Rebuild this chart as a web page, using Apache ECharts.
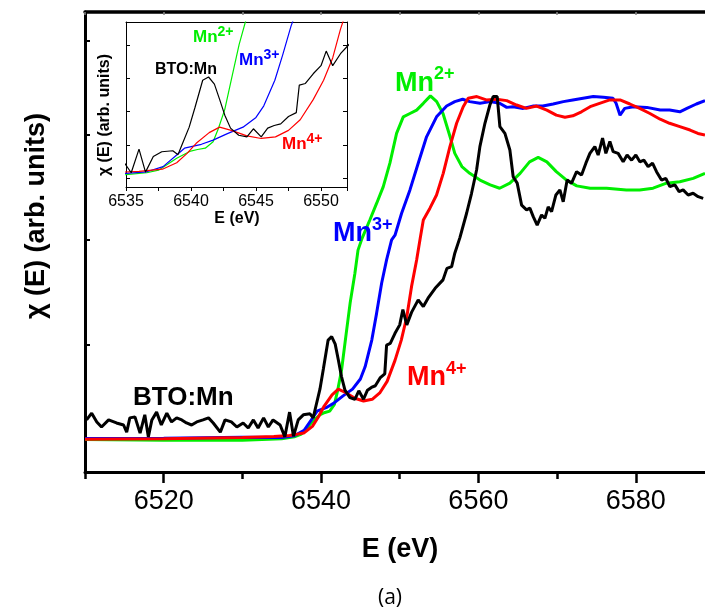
<!DOCTYPE html>
<html><head><meta charset="utf-8">
<script src="https://cdn.jsdelivr.net/npm/echarts@6/dist/echarts.min.js"></script>
<style>html,body{margin:0;padding:0;background:#fff}#c{width:705px;height:616px}</style>
</head><body><div id="c"></div>
<script>
// ---- data: [energy (eV), normalised chi(E)] ----
const mn2 = [[6510,-0.004],[6520,-0.006],[6530,-0.006],[6535,-0.002],[6536.6,0.004],[6537.5,0.012],[6538.2,0.03],[6538.9,0.049],[6539.9,0.07],[6540.5,0.076],[6541.1,0.08],[6541.7,0.1],[6542.1,0.14],[6542.6,0.2],[6543.2,0.31],[6543.7,0.4],[6544.3,0.487],[6544.7,0.556],[6545.2,0.59],[6546.2,0.645],[6547.06,0.694],[6547.9,0.743],[6548.75,0.813],[6549.6,0.901],[6550.45,0.95],[6551.3,0.96],[6552.15,0.97],[6553,0.99],[6553.9,1.012],[6554.7,0.995],[6555.5,0.96],[6556.4,0.891],[6557,0.842],[6557.9,0.803],[6558.9,0.783],[6560.2,0.763],[6561.5,0.749],[6562.7,0.739],[6564,0.754],[6565.3,0.783],[6566.5,0.817],[6567.6,0.83],[6568.7,0.817],[6569.9,0.788],[6571.2,0.763],[6572.5,0.746],[6574.2,0.739],[6576.3,0.739],[6578.8,0.734],[6580.5,0.734],[6582.2,0.739],[6583.9,0.754],[6585.6,0.758],[6587.3,0.768],[6588.8,0.783]];
const mn3 = [[6510,-0.001],[6520,0.0],[6530,0.003],[6535,0.002],[6536.6,0.007],[6537.85,0.023],[6538.9,0.059],[6539.5,0.08],[6540.8,0.092],[6541.7,0.105],[6542.8,0.125],[6544,0.145],[6545,0.175],[6545.6,0.211],[6546.45,0.29],[6547.06,0.369],[6547.7,0.458],[6548.33,0.527],[6548.97,0.586],[6549.4,0.6],[6550.24,0.665],[6551.3,0.734],[6552.35,0.813],[6553.41,0.891],[6554.68,0.95],[6555.96,0.982],[6557,0.995],[6558,1.002],[6558.9,0.995],[6560.2,0.99],[6561.5,0.995],[6562.7,0.99],[6563.6,0.978],[6564.4,0.98],[6565.7,0.975],[6567,0.982],[6568.2,0.982],[6569.5,0.988],[6570.8,0.995],[6572,1.0],[6573.3,1.005],[6574.6,1.01],[6575.9,1.008],[6577.1,1.005],[6577.5,0.99],[6578,0.955],[6578.6,0.975],[6579.7,0.98],[6581.4,0.978],[6583.1,0.97],[6584.3,0.97],[6585.6,0.965],[6586.5,0.975],[6587.7,0.988],[6588.8,0.998]];
const mn4 = [[6510,-0.003],[6520,-0.002],[6530,0.002],[6534,0.005],[6536,0.008],[6537,0.012],[6537.8,0.015],[6538.9,0.035],[6539.7,0.064],[6540.4,0.095],[6541.4,0.128],[6542.2,0.145],[6543.1,0.135],[6544.3,0.118],[6545.4,0.11],[6546.5,0.115],[6547.5,0.135],[6548.4,0.168],[6549.4,0.23],[6550.2,0.29],[6550.9,0.359],[6551.5,0.448],[6552.15,0.527],[6552.6,0.59],[6553,0.645],[6553.84,0.68],[6554.68,0.719],[6555.53,0.783],[6556.38,0.862],[6557.23,0.931],[6558.07,0.98],[6558.7,1.005],[6559.8,1.01],[6561,1.0],[6562.3,1.002],[6563.6,0.998],[6564.85,0.985],[6566.1,0.975],[6567.4,0.982],[6568.7,0.97],[6569.9,0.955],[6571,0.949],[6572,0.953],[6573.1,0.965],[6574.2,0.98],[6575.4,0.99],[6576.7,1.0],[6578,1.0],[6579.25,0.988],[6580.5,0.975],[6581.8,0.96],[6583.1,0.943],[6584.3,0.931],[6585.6,0.921],[6586.9,0.911],[6587.9,0.901],[6588.8,0.896]];
const bto = [[6510.2,0.054],[6510.85,0.074],[6511.5,0.048],[6512.1,0.033],[6513.0,0.054],[6514.0,0.045],[6514.9,0.039],[6515.3,0.018],[6515.7,0.060],[6516.35,0.063],[6517.0,0.015],[6517.6,0.069],[6518.05,0.004],[6518.5,0.054],[6519.1,0.077],[6519.7,0.039],[6520.4,0.074],[6521.0,0.048],[6521.65,0.060],[6522.3,0.054],[6522.9,0.045],[6523.55,0.039],[6524.2,0.048],[6525.0,0.054],[6525.7,0.060],[6526.3,0.045],[6527.2,0.018],[6527.8,0.054],[6528.6,0.048],[6529.3,0.033],[6530.1,0.045],[6530.75,0.030],[6531.4,0.054],[6532.0,0.030],[6532.7,0.060],[6533.3,0.033],[6533.9,0.054],[6534.8,0.039],[6535.4,0.004],[6536.0,0.077],[6536.5,0.006],[6537.1,0.054],[6537.75,0.069],[6538.6,0.072],[6539.0,0.060],[6539.3,0.09],[6539.86,0.145],[6540.3,0.205],[6540.9,0.29],[6541.35,0.300],[6541.8,0.278],[6542.2,0.231],[6542.6,0.182],[6543.04,0.142],[6543.67,0.12],[6544.3,0.115],[6544.8,0.14],[6545.4,0.115],[6545.9,0.142],[6546.4,0.150],[6546.9,0.155],[6547.5,0.178],[6548.1,0.19],[6548.33,0.275],[6548.8,0.28],[6549.4,0.31],[6550.0,0.335],[6550.4,0.38],[6550.9,0.335],[6551.5,0.372],[6552.35,0.409],[6553.0,0.389],[6553.6,0.414],[6554.5,0.443],[6555.5,0.468],[6556.0,0.502],[6556.6,0.507],[6557.0,0.547],[6557.65,0.593],[6558.5,0.665],[6559.13,0.724],[6559.77,0.793],[6560.19,0.862],[6560.83,0.931],[6561.46,0.985],[6561.88,1.01],[6562.39,1.01],[6562.73,0.921],[6563.37,0.901],[6564.0,0.852],[6564.42,0.773],[6564.93,0.754],[6565.49,0.689],[6566.12,0.675],[6566.54,0.68],[6566.97,0.655],[6567.47,0.63],[6568.03,0.66],[6568.45,0.65],[6568.87,0.684],[6569.3,0.67],[6569.85,0.719],[6570.36,0.734],[6570.78,0.699],[6571.28,0.763],[6571.84,0.754],[6572.48,0.788],[6573.11,0.778],[6573.66,0.813],[6574.17,0.842],[6574.8,0.862],[6575.22,0.837],[6575.78,0.887],[6576.2,0.842],[6576.71,0.877],[6577.13,0.847],[6577.76,0.842],[6578.4,0.817],[6578.9,0.837],[6579.47,0.822],[6580.01,0.837],[6580.52,0.817],[6581.03,0.822],[6581.57,0.803],[6582.13,0.813],[6582.64,0.788],[6583.27,0.763],[6583.82,0.768],[6584.33,0.744],[6584.97,0.749],[6585.51,0.729],[6586.02,0.734],[6586.66,0.719],[6587.29,0.724],[6587.93,0.714],[6588.57,0.709]];

// ---- tick labels ----
const mainXTicks = [6520, 6540, 6560, 6580];
const mainXMinor = [6510, 6530, 6550, 6570];
const mainXTop = [6510, 6520, 6530, 6540, 6550, 6560, 6570, 6580];
const mainYTicks = [0.2755, 0.586, 0.896, 1.174];
const insetXTicks = [6535, 6540, 6545, 6550];
const insetYTicks = [-0.013, 0.09, 0.193, 0.296, 0.399];

const FONT = 'Liberation Sans, Arial, sans-serif';
const C = { mn2: '#00ee00', mn3: '#0000ff', mn4: '#ff0000', bto: '#000000' };
const plain = v => String(Math.round(v));

function supText(x, baseline, main, sup, color, fs, sfs, raise) {
  const P = raise + 0.17 * (fs - sfs);
  return {
    type: 'text', x: x, y: baseline + 0.17 * fs, z: 100,
    style: {
      text: '{m|' + main + '}{s|' + sup + '}', align: 'left', verticalAlign: 'bottom',
      rich: {
        m: { fontSize: fs, fontWeight: 'bold', fontFamily: FONT, fill: color, verticalAlign: 'bottom' },
        s: { fontSize: sfs, fontWeight: 'bold', fontFamily: FONT, fill: color, verticalAlign: 'bottom', padding: [0, 0, P, 0] }
      }
    }
  };
}
function plainText(x, baseline, text, color, fs) {
  return { type: 'text', x: x, y: baseline + 0.17 * fs, z: 100,
    style: { text: text, align: 'left', verticalAlign: 'bottom', fontSize: fs, fontWeight: 'bold', fontFamily: FONT, fill: color } };
}

const chart = echarts.init(document.getElementById('c'), null, { renderer: 'canvas' });
const lineS = (name, data, color, xi, yi, w) => ({
  name: name, type: 'line', data: data, xAxisIndex: xi, yAxisIndex: yi,
  showSymbol: false, symbol: 'none', smooth: false, animation: false,
  lineStyle: { color: color, width: w }, itemStyle: { color: color }, z: 3
});

chart.setOption({
  animation: false,
  backgroundColor: '#fff',
  grid: [
    { left: 85, top: 12, width: 620, height: 460 },
    { left: 126, top: 22, width: 221, height: 165 }
  ],
  xAxis: [
    { gridIndex: 0, type: 'value', min: 6510, max: 6588.8, position: 'bottom',
      axisLine: { onZero: false, lineStyle: { color: '#000', width: 3 } },
      axisTick: { customValues: mainXTicks, length: 11, lineStyle: { color: '#000', width: 2.5 } },
      axisLabel: { customValues: mainXTicks, formatter: plain, fontSize: 27, fontFamily: FONT, color: '#000', margin: 16 },
      splitLine: { show: false } },
    { gridIndex: 0, type: 'value', min: 6510, max: 6588.8, position: 'bottom',
      axisLine: { show: false, onZero: false },
      axisTick: { customValues: mainXMinor, length: 7, lineStyle: { color: '#000', width: 2.5 } },
      axisLabel: { show: false }, splitLine: { show: false } },
    { gridIndex: 0, type: 'value', min: 6510, max: 6588.8, position: 'top',
      axisLine: { onZero: false, lineStyle: { color: '#000', width: 3.5 } },
      axisTick: { customValues: mainXTop, inside: true, length: 3, lineStyle: { color: '#888', width: 1.5 } },
      axisLabel: { show: false }, splitLine: { show: false } },
    { gridIndex: 1, type: 'value', min: 6535, max: 6552, interval: 5, position: 'bottom',
      axisLine: { onZero: false, lineStyle: { color: '#000', width: 1 } },
      axisTick: { length: 4, lineStyle: { color: '#000', width: 1 } },
      minorTick: { show: true, splitNumber: 2, length: 4, lineStyle: { color: '#000', width: 1 } },
      axisLabel: { customValues: insetXTicks, formatter: plain, fontSize: 16, fontFamily: FONT, color: '#000', margin: 7 },
      splitLine: { show: false } },
    { gridIndex: 1, type: 'value', min: 6535, max: 6552, position: 'top',
      axisLine: { onZero: false, lineStyle: { color: '#000', width: 1 } },
      axisTick: { show: false }, axisLabel: { show: false }, splitLine: { show: false } }
  ],
  yAxis: [
    { gridIndex: 0, type: 'value', min: -0.1, max: 1.26, position: 'left',
      axisLine: { show: true, onZero: false, lineStyle: { color: '#000', width: 3 } },
      axisTick: { show: true, customValues: mainYTicks, inside: true, length: 5, lineStyle: { color: '#000', width: 2 } },
      axisLabel: { show: false }, splitLine: { show: false } },
    { gridIndex: 1, type: 'value', min: -0.04, max: 0.47, position: 'left',
      axisLine: { show: true, onZero: false, lineStyle: { color: '#000', width: 1 } },
      axisTick: { show: true, customValues: insetYTicks, inside: true, length: 4, lineStyle: { color: '#000', width: 1 } },
      axisLabel: { show: false }, splitLine: { show: false } },
    { gridIndex: 1, type: 'value', min: -0.04, max: 0.47, position: 'right',
      axisLine: { show: true, onZero: false, lineStyle: { color: '#000', width: 1 } },
      axisTick: { show: true, customValues: insetYTicks, inside: true, length: 4, lineStyle: { color: '#000', width: 1 } },
      axisLabel: { show: false }, splitLine: { show: false } }
  ],
  series: [
    lineS('Mn2+', mn2, C.mn2, 0, 0, 3),
    lineS('Mn3+', mn3, C.mn3, 0, 0, 3),
    lineS('Mn4+', mn4, C.mn4, 0, 0, 3),
    lineS('BTO:Mn', bto, C.bto, 0, 0, 3),
    lineS('Mn2+ inset', mn2, C.mn2, 3, 1, 1.2),
    lineS('Mn3+ inset', mn3, C.mn3, 3, 1, 1.2),
    lineS('Mn4+ inset', mn4, C.mn4, 3, 1, 1.2),
    lineS('BTO:Mn inset', bto, C.bto, 3, 1, 1.2)
  ],
  graphic: [
    { type: 'text', x: 37, y: 216, rotation: Math.PI / 2, z: 100,
      style: { text: 'χ (E) (arb. units)', align: 'center', verticalAlign: 'middle', fontSize: 27, fontWeight: 'bold', fontFamily: FONT, fill: '#000' } },
    { type: 'text', x: 400, y: 550, z: 100,
      style: { text: 'E (eV)', align: 'center', verticalAlign: 'middle', fontSize: 27, fontWeight: 'bold', fontFamily: FONT, fill: '#000' } },
    { type: 'text', x: 390, y: 598, z: 100,
      style: { text: '(a)', align: 'center', verticalAlign: 'middle', fontSize: 21, fontFamily: 'Open Sans, Noto Sans, sans-serif', fill: '#000' } },
    { type: 'text', x: 105, y: 115, rotation: Math.PI / 2, z: 100,
      style: { text: 'χ (E) (arb. units)', align: 'center', verticalAlign: 'middle', fontSize: 16, fontWeight: 'bold', fontFamily: FONT, fill: '#000' } },
    { type: 'text', x: 237, y: 219, z: 100,
      style: { text: 'E (eV)', align: 'center', verticalAlign: 'middle', fontSize: 16, fontWeight: 'bold', fontFamily: FONT, fill: '#000' } },
    supText(395, 92, 'Mn', '2+', C.mn2, 27, 18, 12),
    supText(333, 242.5, 'Mn', '3+', C.mn3, 27, 18, 12),
    supText(407, 386.7, 'Mn', '4+', C.mn4, 27, 18, 12),
    plainText(133, 406.7, 'BTO:Mn', C.bto, 26),
    supText(193, 43, 'Mn', '2+', C.mn2, 17, 14, 6),
    supText(239, 66, 'Mn', '3+', C.mn3, 17, 14, 6),
    plainText(155, 75, 'BTO:Mn', C.bto, 16),
    supText(282, 150, 'Mn', '4+', C.mn4, 17, 14, 6)
  ]
});
</script></body></html>
